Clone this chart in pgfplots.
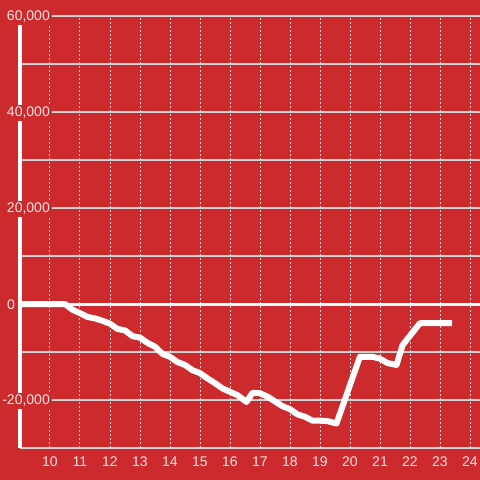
\documentclass[border=0pt]{standalone}
\usepackage{fontspec}
\setmainfont{Liberation Sans}
\usepackage{pgfplots}
\pgfplotsset{compat=1.18}
\definecolor{bg}{RGB}{205,42,46}
\definecolor{lab}{RGB}{245,226,226}
\definecolor{gridc}{RGB}{210,210,210}
\begin{document}
\begin{tikzpicture}[x=1pt,y=1pt]
\fill[bg] (-20,-32) rectangle (460,448);
\begin{axis}[
  at={(0,0)}, anchor=south west,
  scale only axis, width=460pt, height=432pt,
  xmin=9, xmax=24.3333, ymin=-30000, ymax=60000,
  axis x line=bottom, axis y line=left,
  x axis line style={gridc, line width=1.2pt, -},
  y axis line style={white, line width=4pt, -},
  major tick length=0pt, minor tick length=0pt,
  xtick={10,...,24},
  ytick={-20000,20000,40000,60000},
  minor ytick={-30000,-10000,10000,30000,50000},
  extra y ticks={0},
  extra y tick style={ymajorgrids=false, yticklabel style={xshift=-35pt}},
  xmajorgrids, ymajorgrids, yminorgrids,
  x grid style={gridc, line width=1pt, dash pattern=on 2pt off 2pt},
  y grid style={gridc, line width=1.2pt},
  minor grid style={gridc, line width=1.2pt},
  scaled y ticks=false,
  /pgf/number format/assume math mode=true,
  yticklabel style={/pgf/number format/1000 sep={,}, anchor=east, xshift=32pt, yshift=-0.8pt, fill=bg, inner sep=2pt, font=\fontsize{14}{16}\selectfont, text=lab},
  xticklabel style={font=\fontsize{14}{16}\selectfont, text=lab, yshift=-5pt},
]
\addplot[white, line width=3pt] coordinates {(9,0) (24.5,0)};
\addplot[white, line width=6pt, line join=round, line cap=butt] coordinates {
(9.0,0) (10.5,0) (10.75,-1200) (11.0,-1900) (11.25,-2700) (11.5,-3000)
(11.75,-3500) (12.0,-4100) (12.25,-5200) (12.5,-5500) (12.75,-6700)
(13.0,-7000) (13.25,-8100) (13.5,-8900) (13.75,-10400) (14.0,-11000)
(14.25,-12100) (14.5,-12700) (14.75,-13800) (15.0,-14400) (15.25,-15500)
(15.5,-16500) (15.75,-17600) (16.0,-18300) (16.25,-19000) (16.55,-20400)
(16.75,-18500) (17.0,-18600) (17.25,-19300) (17.5,-20300) (17.75,-21300)
(18.0,-21900) (18.25,-23000) (18.5,-23500) (18.75,-24300) (19.0,-24300)
(19.25,-24400) (19.55,-24900) (20.33,-11000) (20.75,-11000) (21.0,-11400)
(21.25,-12300) (21.55,-12700) (21.75,-8600) (22.0,-6600) (22.33,-4000)
(23.4,-4000)
};
\end{axis}
\pgfresetboundingbox
\path[use as bounding box] (-20,-32) rectangle (460,448);
\end{tikzpicture}
\end{document}
